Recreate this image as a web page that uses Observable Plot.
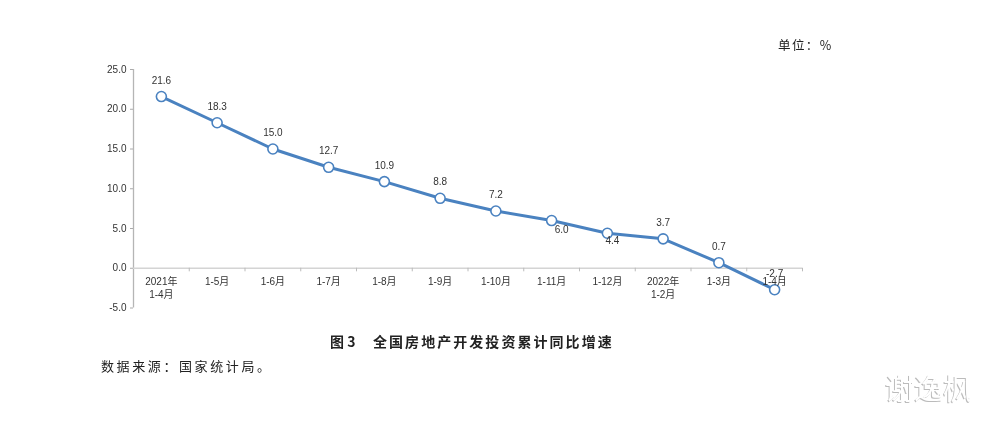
<!DOCTYPE html>
<html lang="zh">
<head>
<meta charset="utf-8">
<script src="https://cdn.jsdelivr.net/npm/d3@7"></script>
<script src="https://cdn.jsdelivr.net/npm/@observablehq/plot@0.6"></script>
<style>
html,body{margin:0;padding:0;background:#fff;}
#wrap{position:relative;width:988px;height:421px;overflow:hidden;filter:blur(0.35px);}
#wrap svg{display:block;position:absolute;left:0;top:0;font-family:"Liberation Sans",sans-serif;}
.t{position:absolute;white-space:nowrap;font-family:"Noto Sans CJK SC",sans-serif;color:#222;line-height:1;}
#unit{left:778px;top:39px;font-size:12.5px;letter-spacing:1.4px;}
#title{left:330px;top:334px;font-size:14px;font-weight:700;}
#title span{position:absolute;left:43px;top:0;letter-spacing:2.05px;}
#source{left:101px;top:359px;font-size:13px;letter-spacing:2.6px;}
#mark{left:885px;top:373px;font-size:29px;color:#fff;text-shadow:-1px 1px 0 #bbb;}
</style>
</head>
<body>
<div id="wrap">
<div id="chart"></div>
<div class="t" id="unit">单位：%</div>
<div class="t" id="title">图 3<span>全国房地产开发投资累计同比增速</span></div>
<div class="t" id="source">数据来源：国家统计局。</div>
<div class="t" id="mark">谢逸枫</div>
</div>
<script>
const categories = ["2021年\n1-4月","1-5月","1-6月","1-7月","1-8月","1-9月","1-10月","1-11月","1-12月","2022年\n1-2月","1-3月","1-4月"];
const values = [21.6,18.3,15.0,12.7,10.9,8.8,7.2,6.0,4.4,3.7,0.7,-2.7];
const yTicks = [-5,0,5,10,15,20,25];

const rows = categories.map((c,i)=>({c,v:values[i]}));
const below = new Set(["1-11月","1-12月"]);
const half = (988-133-186)/12/2;
const labelFill = "#333";

const plot = Plot.plot({
  width:988,height:421,
  marginLeft:133,marginRight:186,marginTop:69,marginBottom:113.5,
  style:{background:"transparent"},
  x:{type:"band",domain:categories,padding:0,round:false,axis:null},
  y:{domain:[-5,25],axis:null},
  marks:[
    Plot.axisY(yTicks,{tickFormat:d=>d.toFixed(1),tickSize:3,tickPadding:4,stroke:"#aaa",fontSize:10,label:null,fill:"#333"}),
    Plot.ruleX([categories[0]],{x:d=>d,y1:-5,y2:25,dx:-half,stroke:"#b5b5b5",strokeWidth:1.3}),
    Plot.ruleY([0],{stroke:"#d4d4d4",strokeWidth:1.3}),
    Plot.ruleX(categories,{x:d=>d,y1:0,y2:-0.45,dx:half,stroke:"#bbb"}),
    Plot.line(rows,{x:"c",y:"v",stroke:"#4a82c0",strokeWidth:3,curve:"linear"}),
    Plot.dot(rows,{x:"c",y:"v",r:5,fill:"#fff",stroke:"#4a82c0",strokeWidth:1.6}),
    Plot.text(rows.filter(d=>!below.has(d.c)),{x:"c",y:"v",text:d=>d.v.toFixed(1),dy:-16,fontSize:10,fill:labelFill}),
    Plot.text(rows.filter(d=>d.c==="1-11月"),{x:"c",y:"v",text:d=>d.v.toFixed(1),dx:10,dy:9,fontSize:10,fill:labelFill}),
    Plot.text(rows.filter(d=>d.c==="1-12月"),{x:"c",y:"v",text:d=>d.v.toFixed(1),dx:5,dy:8,fontSize:10,fill:labelFill}),
    Plot.text(categories,{x:d=>d,y:()=>0,text:d=>d,lineAnchor:"top",dy:8,fontSize:10,lineHeight:1.3,fill:labelFill,fontFamily:"Liberation Sans, Noto Sans CJK SC"})
  ]
});
document.getElementById("chart").append(plot);
</script>
</body>
</html>
